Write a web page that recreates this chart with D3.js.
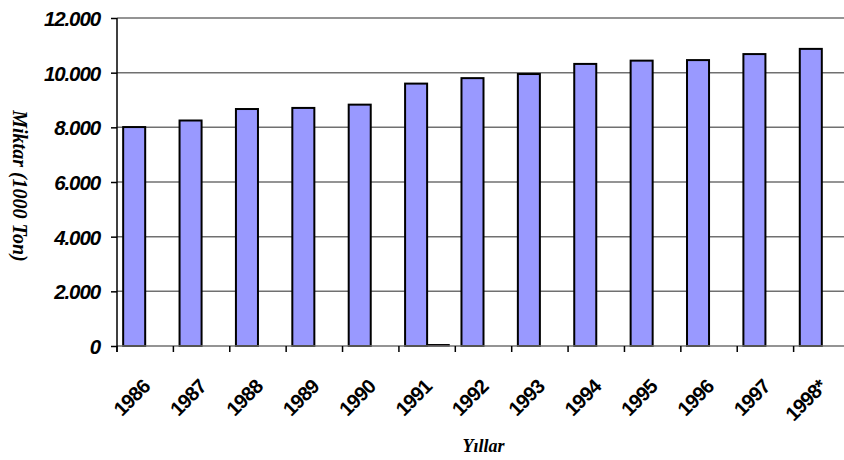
<!DOCTYPE html>
<html lang="tr">

<head>
    <title></title>
    <meta charset="UTF-8">
    <script src="https://cdn.jsdelivr.net/npm/d3@7/dist/d3.min.js"></script>
    <style>
        body {
            margin: 0;
            background: #fff;
        }

        svg {
            display: block;
        }

        .tick-label {
            font-family: "Liberation Sans", Arial, sans-serif;
            font-weight: bold;
            font-size: 20px;
            letter-spacing: -0.8px;
        }

        .y-label {
            font-style: italic;
            font-size: 20.5px;
            letter-spacing: -1.1px;
        }

        .axis-title {
            font-family: "Liberation Serif", "Times New Roman", serif;
            font-weight: bold;
            font-style: italic;
        }
    </style>
</head>

<body>
    <div id="wrap"></div>
    <script>
        // data
        var years = ['1986', '1987', '1988', '1989', '1990', '1991', '1992', '1993', '1994', '1995', '1996', '1997', '1998*'];
        var miktar = [8010, 8250, 8670, 8710, 8830, 9600, 9800, 9950, 10320, 10440, 10460, 10680, 10870];
        var ikinci = [null, null, null, null, null, 50, null, null, null, null, null, null, null];
        var yTicks = [0, 2000, 4000, 6000, 8000, 10000, 12000];

        // sizes
        var WIDTH = 844,
            HEIGHT = 460,
            LEFT = 117,
            TOP = 18,
            PLOTWIDTH = 733,
            PLOTHEIGHT = 328,
            BARFILL = '#9999ff',
            GRIDCOLOR = '#707070';

        var svg = d3.select('#wrap').append('svg')
            .attr('width', WIDTH)
            .attr('height', HEIGHT);

        var x = d3.scaleBand().domain(years).range([LEFT, LEFT + PLOTWIDTH]).paddingInner(0).paddingOuter(0);
        var series = d3.scaleBand().domain(['a', 'b']).range([0, x.bandwidth()]).paddingOuter(0.28);
        var y = d3.scaleLinear().domain([0, 12000]).range([TOP + PLOTHEIGHT, TOP]);

        // yatay grid
        svg.append('g')
            .selectAll('line')
            .data(yTicks.slice(1))
            .enter()
            .append('line')
            .attr('x1', LEFT)
            .attr('x2', WIDTH)
            .attr('y1', function(d) { return y(d); })
            .attr('y2', function(d) { return y(d); })
            .attr('stroke', GRIDCOLOR)
            .attr('stroke-width', 1.5);

        // bars
        svg.append('g')
            .selectAll('rect')
            .data(miktar)
            .enter()
            .append('rect')
            .attr('x', function(d, i) { return x(years[i]) + series('a'); })
            .attr('y', function(d) { return y(d); })
            .attr('width', series.bandwidth())
            .attr('height', function(d) { return y(0) - y(d); })
            .attr('fill', BARFILL)
            .attr('stroke', '#000')
            .attr('stroke-width', 2);

        // second series (only 1991 has a value)
        svg.append('g')
            .selectAll('rect')
            .data(ikinci.map(function(d, i) { return { v: d, year: years[i] }; }).filter(function(d) { return d.v != null; }))
            .enter()
            .append('rect')
            .attr('x', function(d) { return x(d.year) + series('b'); })
            .attr('y', function(d) { return y(d.v); })
            .attr('width', series.bandwidth())
            .attr('height', function(d) { return y(0) - y(d.v); })
            .attr('fill', '#993366')
            .attr('stroke', '#000')
            .attr('stroke-width', 1.2);

        // x axis
        var xAxis = svg.append('g')
            .attr('transform', 'translate(0,' + y(0) + ')')
            .call(d3.axisBottom(x).tickSize(0).tickFormat(''));
        xAxis.select('.domain').attr('d', 'M' + LEFT + ',0H' + WIDTH).attr('stroke', GRIDCOLOR).attr('stroke-width', 1.5);
        xAxis.append('g')
            .selectAll('line')
            .data(years)
            .enter()
            .append('line')
            .attr('x1', function(d) { return x(d); })
            .attr('x2', function(d) { return x(d); })
            .attr('y1', 0)
            .attr('y2', 6)
            .attr('stroke', '#000')
            .attr('stroke-width', 1.5);
        xAxis.append('g')
            .selectAll('text')
            .data(years)
            .enter()
            .append('text')
            .attr('class', 'tick-label')
            .attr('text-anchor', 'end')
            .attr('fill', '#000')
            .attr('transform', function(d) {
                return 'translate(' + (x(d) + x.bandwidth() / 2 + 6) + ',42) rotate(-45)';
            })
            .text(function(d) { return d; });

        // y axis
        var yAxis = svg.append('g')
            .attr('transform', 'translate(' + LEFT + ',0)')
            .call(d3.axisLeft(y).tickValues(yTicks).tickSize(6).tickSizeOuter(0).tickFormat(function(d) {
                return d === 0 ? '0' : d3.format(',')(d).replace(',', '.');
            }));
        yAxis.select('.domain').attr('d', 'M0,' + TOP + 'V' + (TOP + PLOTHEIGHT + 6)).attr('stroke', '#000').attr('stroke-width', 1.5);
        yAxis.selectAll('.tick line').attr('stroke', '#000').attr('stroke-width', 1.5);
        yAxis.selectAll('.tick text')
            .attr('class', 'tick-label y-label')
            .attr('x', -17)
            .attr('dy', '0.36em')
            .attr('fill', '#000');

        // axis titles
        svg.append('text')
            .attr('class', 'axis-title')
            .attr('font-size', 20)
            .attr('text-anchor', 'middle')
            .attr('transform', 'translate(13,' + 186 + ') rotate(90)')
            .text('Miktar (1000 Ton)');

        svg.append('text')
            .attr('class', 'axis-title')
            .attr('font-size', 18)
            .attr('text-anchor', 'middle')
            .attr('x', LEFT + PLOTWIDTH / 2)
            .attr('y', 452)
            .text('Yıllar');
    </script>
</body>

</html>
